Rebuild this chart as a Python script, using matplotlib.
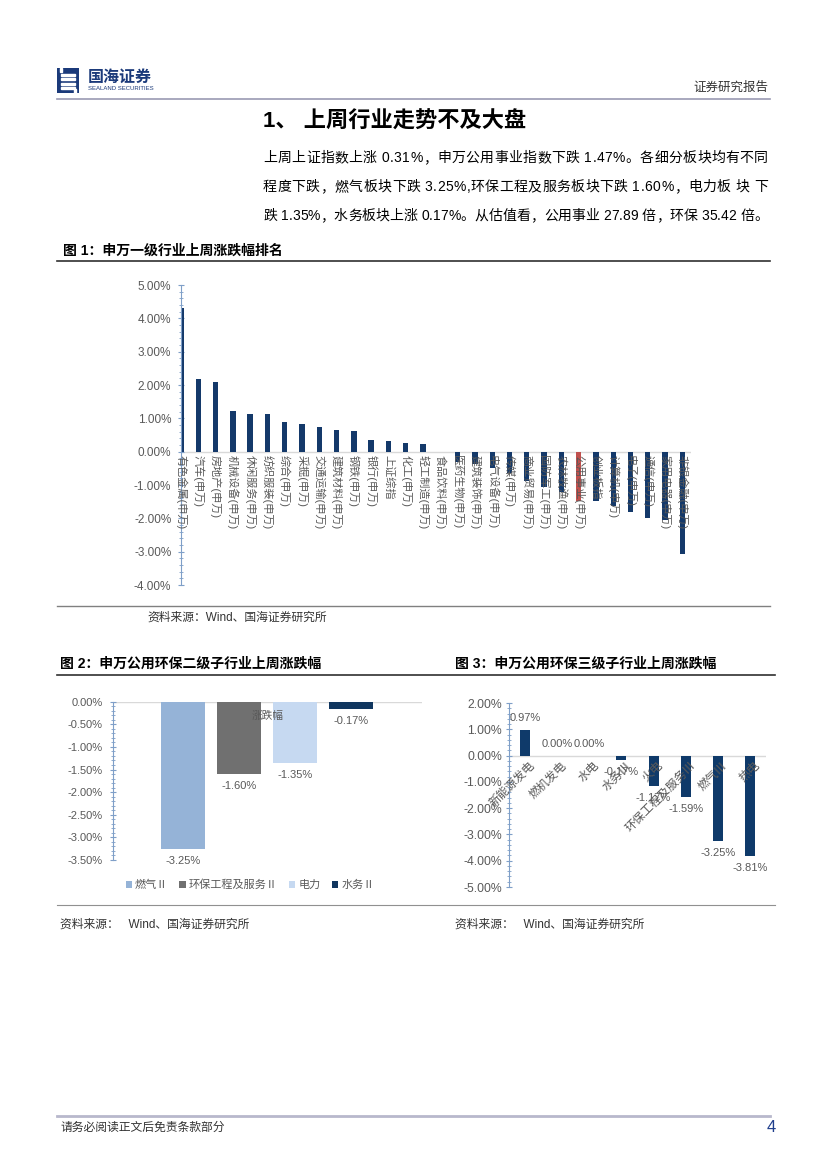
import matplotlib
matplotlib.use("Agg")
import matplotlib.pyplot as plt
import numpy as np
from matplotlib.ticker import MultipleLocator, FuncFormatter
from matplotlib.patches import Rectangle
from matplotlib.lines import Line2D

plt.rcParams['font.family'] = ['Liberation Sans', 'Noto Sans CJK SC', 'DejaVu Sans']

# ---- data ----
ind_names = ['有色金属(申万)', '汽车(申万)', '房地产(申万)', '机械设备(申万)', '休闲服务(申万)',
             '纺织服装(申万)', '综合(申万)', '采掘(申万)', '交通运输(申万)', '建筑材料(申万)',
             '钢铁(申万)', '银行(申万)', '上证综指', '化工(申万)', '轻工制造(申万)',
             '食品饮料(申万)', '医药生物(申万)', '建筑装饰(申万)', '电气设备(申万)', '传媒(申万)',
             '商业贸易(申万)', '国防军工(申万)', '农林牧渔(申万)', '公用事业(申万)', '创业板指',
             '计算机(申万)', '电子(申万)', '通信(申万)', '家用电器(申万)', '非银金融(申万)']
ind_vals = [4.32, 2.18, 2.08, 1.22, 1.13, 1.12, 0.89, 0.83, 0.75, 0.64,
            0.61, 0.35, 0.31, 0.26, 0.23, -0.02, -0.30, -0.38, -0.48, -0.65,
            -0.88, -1.06, -1.22, -1.47, -1.48, -1.62, -1.81, -1.98, -2.05, -3.07]
highlight = '公用事业(申万)'

sub2_names = ['燃气Ⅱ', '环保工程及服务Ⅱ', '电力', '水务Ⅱ']
sub2_vals = [-3.25, -1.60, -1.35, -0.17]
sub2_cat = '涨跌幅'

sub3_names = ['新能源发电', '燃机发电', '水电', '水务Ⅲ', '火电', '环保工程及服务Ⅲ', '燃气Ⅲ', '热电']
sub3_vals = [0.97, 0.00, 0.00, -0.17, -1.17, -1.59, -3.25, -3.81]

para = ['上周上证指数上涨 0.31%，申万公用事业指数下跌 1.47%。各细分板块均有不同',
        '程度下跌，燃气板块下跌 3.25%,环保工程及服务板块下跌 1.60%，电力板 块 下',
        '跌 1.35%，水务板块上涨 0.17%。从估值看，公用事业 27.89 倍，环保 35.42 倍。']

W, H = 827, 1169
navy = '#14396A'
gray_txt = '#595959'
axis_col = '#7F9FC8'

fig = plt.figure(figsize=(W / 100, H / 100), dpi=100)


def fx(x):
    return x / W


def fy(y):
    return 1 - y / H


def hline(y, x0, x1, color, lw):
    fig.add_artist(Line2D([fx(x0), fx(x1)], [fy(y), fy(y)], color=color, lw=lw))


def put(x, y, s, **kw):
    fig.text(fx(x), fy(y), s, va='center', **kw)


def justify(text, x0, x1, y, size):
    r = fig.canvas.get_renderer()
    probe = fig.text(0, 0, '|', fontsize=size)
    bar_w = probe.get_window_extent(r).width

    def width(s):
        probe.set_text(s + '|')
        return probe.get_window_extent(r).width - bar_w

    pw = [width(text[:k]) for k in range(len(text) + 1)]
    probe.remove()
    extra = ((x1 - x0) - pw[-1]) / (len(text) - 1)
    for k, ch in enumerate(text):
        if ch != ' ':
            put(x0 + pw[k] + k * extra, y, ch, fontsize=size, color='black')


def style_y(ax, major, minor, size, pad):
    for s in ['top', 'right', 'bottom']:
        ax.spines[s].set_visible(False)
    ax.spines['left'].set_color(axis_col)
    ax.yaxis.set_major_locator(MultipleLocator(major))
    ax.yaxis.set_minor_locator(MultipleLocator(minor))
    ax.yaxis.set_major_formatter(FuncFormatter(lambda v, _: f'{v:.2f}%'))
    ax.tick_params(axis='y', which='major', direction='inout', length=4, colors=axis_col,
                   labelcolor=gray_txt, labelsize=size, pad=pad)
    ax.tick_params(axis='y', which='minor', direction='inout', length=2.5, colors=axis_col)
    ax.set_xticks([])
    ax.axhline(0, color='#D9D9D9', lw=1, zorder=1.5)


# ---- page header ----
lg = fig.add_axes([fx(57), fy(93), fx(79) - fx(57), fy(68) - fy(93)])
lg.set_xlim(0, 22)
lg.set_ylim(0, 25)
lg.axis('off')
lg.add_patch(Rectangle((0, 0), 22, 25, color='#1B3A7A'))
for yy in [4, 8.5, 13, 17.5]:
    lg.add_patch(Rectangle((4, yy), 14, 1.6, color='white'))
lg.add_patch(Rectangle((3, 21), 2, 4, color='white'))
lg.add_patch(Rectangle((17, 0), 2, 4, color='white'))

put(88, 77, '国海证券', fontsize=11.5, fontweight='bold', color='#1B3A7A')
put(88, 89, 'SEALAND SECURITIES', fontsize=4.3, color='#1B3A7A')
put(768, 88, '证券研究报告', fontsize=9, color='#333333', ha='right')
hline(99, 57, 770, '#9999B3', 1.2)

put(263, 122, '1、 上周行业走势不及大盘', fontsize=16, fontweight='bold', color='black')
for i, line in enumerate(para):
    justify(line, 263, 768, 158 + i * 29, 10)

put(63, 251, '图 1：申万一级行业上周涨跌幅排名', fontsize=10, fontweight='bold', color='black')
hline(261, 57, 770, '#303030', 1.2)

# ---- chart 1 ----
ax1 = fig.add_axes([fx(181), fy(585), fx(691) - fx(181), fy(285) - fy(585)])
x1 = np.arange(len(ind_names))
cols = ['#C0504D' if n == highlight else navy for n in ind_names]
ax1.bar(x1, ind_vals, width=0.31, color=cols, zorder=2)
ax1.set_xlim(0, len(ind_names) - 0.5)
ax1.set_ylim(-4, 5)
style_y(ax1, 1, 0.2, 8.5, 5)
for i, n in enumerate(ind_names):
    ax1.text(i, -0.1, n, rotation=270, rotation_mode='anchor', ha='left', va='center',
             fontsize=8, color=gray_txt, zorder=3)

hline(606, 57, 770, '#808080', 1)
put(147, 618, '资料来源：Wind、国海证券研究所', fontsize=8.5, color='#333333')

put(60, 664, '图 2：申万公用环保二级子行业上周涨跌幅', fontsize=10, fontweight='bold', color='black')
put(455, 664, '图 3：申万公用环保三级子行业上周涨跌幅', fontsize=10, fontweight='bold', color='black')
hline(675, 57, 775, '#303030', 1.2)

# ---- chart 2 ----
ax2 = fig.add_axes([fx(112.7), fy(860), fx(421.7) - fx(112.7), fy(701.7) - fy(860)])
cols2 = ['#95B3D7', '#707070', '#C6D9F1', '#10365F']
offs = (np.arange(len(sub2_names)) - 1.5) * 0.181
for o, v, c, n in zip(offs, sub2_vals, cols2, sub2_names):
    ax2.bar(o, v, width=0.142, color=c, label=n, zorder=2)
    ax2.annotate(f'{v:.2f}%', (o, v), xytext=(0, -8.6), textcoords='offset points',
                 ha='center', va='center', fontsize=8, color=gray_txt)
ax2.set_xlim(-0.5, 0.5)
ax2.set_ylim(-3.5, 0)
style_y(ax2, 0.5, 0.1, 8, 5)
ax2.text(0, -0.31, sub2_cat, ha='center', va='center', fontsize=7.7, color=gray_txt, zorder=3)
h, l = ax2.get_legend_handles_labels()
fig.legend(h, l, loc='center', bbox_to_anchor=(fx(250), fy(885)), ncol=4, frameon=False,
           fontsize=8, labelcolor=gray_txt, handlelength=0.55, handleheight=0.55,
           handletextpad=0.3, columnspacing=1.0)

# ---- chart 3 ----
ax3 = fig.add_axes([fx(509), fy(887), fx(766) - fx(509), fy(703) - fy(887)])
x3 = np.arange(len(sub3_names))
ax3.bar(x3, sub3_vals, width=0.31, color='#0F3A6A', zorder=2)
for i, v in enumerate(sub3_vals):
    dy = 8.6 if v >= 0 else -8.6
    ax3.annotate(f'{v:.2f}%', (i, v), xytext=(0, dy), textcoords='offset points',
                 ha='center', va='center', fontsize=8, color=gray_txt, zorder=4)
    ax3.text(i + 0.12, -0.15, sub3_names[i], rotation=45, rotation_mode='anchor',
             ha='right', va='top', fontsize=8.5, color=gray_txt, zorder=3)
ax3.set_xlim(-0.5, len(sub3_names) - 0.5)
ax3.set_ylim(-5, 2)
style_y(ax3, 1, 0.2, 8.8, 3)

hline(905, 57, 775, '#909090', 0.8)
put(60, 925, '资料来源：   Wind、国海证券研究所', fontsize=8.5, color='#333333')
put(455, 925, '资料来源：   Wind、国海证券研究所', fontsize=8.5, color='#333333')

# ---- footer ----
hline(1116, 57, 770, '#B8B8CC', 2)
put(60, 1128, '请务必阅读正文后免责条款部分', fontsize=8.5, color='#333333')
put(776, 1128, '4', fontsize=12, color='#1F3E8C', ha='right')

fig.savefig('out.png', dpi=100)
